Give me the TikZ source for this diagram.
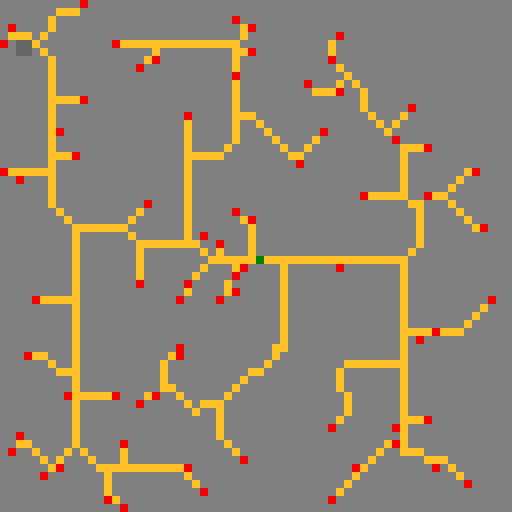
\documentclass[tikz,border=0pt]{standalone}
\definecolor{bgc}{RGB}{128,128,128}
\definecolor{pathc}{RGB}{255,193,37}
\definecolor{redc}{RGB}{240,0,0}
\definecolor{greenc}{RGB}{0,128,0}
\definecolor{darkc}{RGB}{102,102,102}
\begin{document}
\begin{tikzpicture}[x=0.25cm,y=-0.25cm]
\fill[bgc] (0,0) rectangle (64,64);
\fill[darkc] (2,5) rectangle (4,7);
% orange runs
\foreach \a/\b/\c/\d in {7/1/9/1, 6/2/6/3, 1/4/3/4, 6/7/6/25, 1/21/5/21, 7/12/9/12, 7/19/8/19, 9/28/9/55, 10/28/15/28, 17/30/17/34, 18/30/24/30, 5/37/8/37, 4/44/5/44, 7/46/8/46, 10/49/13/49, 20/45/20/48, 25/50/27/50, 27/51/27/54, 31/46/32/46, 34/43/34/44, 35/33/35/43, 2/55/3/55, 12/58/22/58, 15/56/15/57, 13/59/13/61,
15/5/29/5, 30/3/30/4, 29/6/29/8, 29/10/29/17, 30/14/31/14, 36/19/37/19, 24/19/27/19, 23/15/23/29, 41/5/41/6, 45/11/45/13, 39/11/41/11, 50/18/52/18, 50/19/50/24, 46/24/49/24, 51/25/52/25, 52/26/52/30, 54/24/55/24,
26/32/31/32, 33/32/50/32, 31/28/31/31, 28/35/28/36, 50/33/50/56, 51/41/53/41, 55/41/57/41, 43/45/49/45, 42/46/42/48, 43/49/43/51, 51/52/52/52, 51/56/52/56, 53/57/55/57}
  \fill[pathc] (\a,\b) rectangle (\c+1,\d+1);
% orange single cells
\foreach \x/\y in {5/4, 4/5, 5/6, 7/26, 8/27, 16/27, 17/26, 16/29, 6/45, 18/49, 21/44, 21/48, 22/49, 23/50, 24/51, 28/55, 29/56, 28/49, 29/48, 30/47, 33/45, 4/56, 5/57, 6/58, 7/57, 8/56, 10/56, 11/57, 14/62, 23/59, 24/60,
19/6, 18/7, 30/6, 32/15, 33/16, 34/17, 35/18, 38/18, 39/17, 28/18, 42/8, 43/9, 42/10, 44/10, 46/14, 47/15, 48/16, 49/15, 50/14, 51/31, 58/21, 57/22, 56/23, 56/25, 57/26, 58/27, 59/28,
25/31, 30/27, 27/31, 25/33, 24/34, 23/36, 29/33, 58/40, 59/39, 60/38, 42/52, 48/55, 56/58, 57/59, 47/56, 46/57, 45/58, 44/59, 43/60, 42/61}
  \fill[pathc] (\x,\y) rectangle ++(1,1);
% red cells
\foreach \x/\y in {10/0, 1/3, 0/5, 14/5, 19/7, 17/8, 10/12, 7/16, 9/19, 0/21, 2/22,
29/2, 31/3, 31/6, 29/9, 23/14, 37/20, 40/16,
42/4, 41/7, 38/10, 42/11, 51/13, 49/17, 53/18, 59/21,
18/25, 17/35, 4/37,
25/29, 29/26, 31/27, 27/30, 23/35, 22/37, 30/33, 29/34, 29/36, 27/37, 42/33,
45/24, 53/24, 60/28, 61/37, 54/41, 52/42,
3/44, 8/49, 14/49, 19/49, 17/50, 2/54, 1/56, 5/59, 7/58, 15/55, 13/62, 15/63,
22/43, 22/44, 30/57, 23/58, 25/61, 41/53, 41/62,
49/53, 49/55, 53/52, 54/58, 58/60, 44/58}
  \fill[redc] (\x,\y) rectangle ++(1,1);
\fill[greenc] (32,32) rectangle ++(1,1);
\end{tikzpicture}
\end{document}
